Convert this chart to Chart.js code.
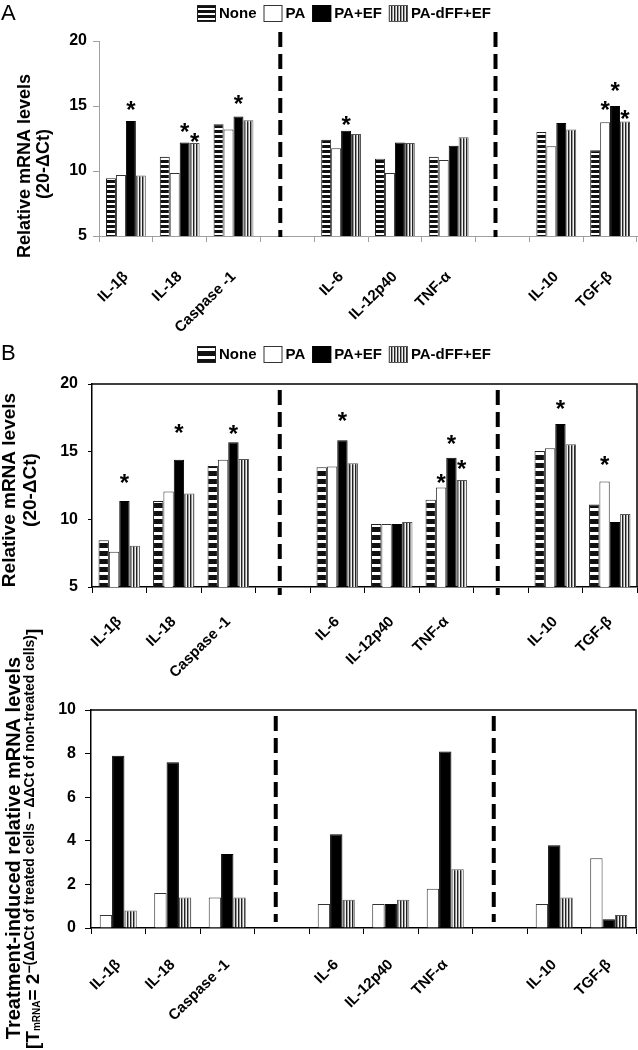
<!DOCTYPE html>
<html>
<head>
<meta charset="utf-8">
<script src="https://cdn.jsdelivr.net/npm/chart.js@4.4.1/dist/chart.umd.min.js"></script>
<style>
  body { margin: 0; background: #fff; }
  #wrap { position: relative; width: 638px; height: 1050px; overflow: hidden; }
  #wrap canvas { position: absolute; left: 0; }
  .tag { position: absolute; left: 1px; font: 22px 'Liberation Sans', Arial, sans-serif; color: #000; }
</style>
</head>
<body>
<div id="wrap">
  <canvas id="chartA" width="638" height="345" style="top:0"></canvas>
  <canvas id="chartB" width="638" height="350" style="top:335px"></canvas>
  <canvas id="chartC" width="638" height="430" style="top:620px"></canvas>
  <div class="tag" style="top:0">A</div>
  <div class="tag" style="top:340px">B</div>
</div>
<script>
const FONT = "'Liberation Sans', Arial, Helvetica, sans-serif";
Chart.defaults.font.family = FONT;

const categories = ['IL-1β', 'IL-18', 'Caspase -1', '', 'IL-6', 'IL-12p40', 'TNF-α', '', 'IL-10', 'TGF-β'];

// panel A - relative mRNA levels (20-ΔCt)
const noneA = [9.45, 11.1, 13.6, null, 12.4, 10.95, 11.1, null, 13.0, 11.6];
const paA   = [9.7, 9.85, 13.2, null, 11.75, 9.85, 10.85, null, 11.9, 13.75];
const paefA = [13.85, 12.2, 14.2, null, 13.1, 12.2, 11.95, null, 13.7, 15.0];
const dffA  = [9.65, 12.15, 13.9, null, 12.85, 12.15, 12.6, null, 13.2, 13.8];
// asterisk levels (same units as the y axis)
const starPaA   = [null, null, null, null, null, null, null, null, null, 15.1];
const starPaefA = [15.1, 13.4, 15.6, null, 14.0, null, null, null, null, 16.6];
const starDffA  = [null, 12.65, null, null, null, null, null, null, null, 14.4];

// panel B - relative mRNA levels (20-ΔCt)
const noneB = [8.45, 11.35, 13.95, null, 13.85, 9.65, 11.45, null, 15.05, 11.1];
const paB   = [7.6, 12.05, 14.4, null, 13.9, 9.65, 12.35, null, 15.25, 12.8];
const paefB = [11.35, 14.4, 15.7, null, 15.85, 9.65, 14.55, null, 17.05, 9.8];
const dffB  = [8.05, 11.9, 14.45, null, 14.15, 9.8, 12.9, null, 15.55, 10.4];
const starPaB   = [null, null, null, null, null, null, 13.1, null, null, 14.45];
const starPaefB = [13.1, 16.8, 16.75, null, 17.65, null, 16.0, null, 18.6, null];
const starDffB  = [null, null, null, null, null, null, 14.15, null, null, null];

// panel C - treatment-induced relative mRNA levels
const paC   = [0.6, 1.6, 1.4, null, 1.1, 1.1, 1.8, null, 1.1, 3.2];
const paefC = [7.9, 7.6, 3.4, null, 4.3, 1.1, 8.1, null, 3.8, 0.4];
const dffC  = [0.8, 1.4, 1.4, null, 1.3, 1.3, 2.7, null, 1.4, 0.6];

const gapIndex = categories.map((c, i) => c === '' ? i : -1).filter(i => i >= 0);

function hStripes(period, dark) {
  const c = document.createElement('canvas');
  c.width = 4; c.height = period;
  const g = c.getContext('2d');
  g.fillStyle = '#fff'; g.fillRect(0, 0, 4, period);
  g.fillStyle = '#111'; g.fillRect(0, 0, 4, dark);
  return g.createPattern(c, 'repeat');
}

function vStripes() {
  const c = document.createElement('canvas');
  c.width = 3; c.height = 4;
  const g = c.getContext('2d');
  g.fillStyle = '#f2f2f2'; g.fillRect(0, 0, 3, 4);
  g.fillStyle = '#222'; g.fillRect(1, 0, 1, 4);
  g.fillStyle = '#999'; g.fillRect(2, 0, 1, 4);
  return g.createPattern(c, 'repeat');
}

function vText(ctx, runs, bx, cy, align) {
  ctx.save();
  ctx.translate(bx, cy);
  ctx.rotate(-Math.PI / 2);
  ctx.textBaseline = 'alphabetic';
  ctx.textAlign = 'left';
  ctx.fillStyle = '#000';
  let total = 0;
  runs.forEach(r => {
    ctx.font = 'bold ' + r.size + 'px ' + FONT;
    r.w = ctx.measureText(r.t).width;
    total += r.w;
  });
  let x = align === 'center' ? -total / 2 : 0;
  runs.forEach(r => {
    ctx.font = 'bold ' + r.size + 'px ' + FONT;
    ctx.fillText(r.t, x, r.dy || 0);
    x += r.w;
  });
  ctx.restore();
}

function drawLegend(ctx, chart, L) {
  let x = L.x;
  ctx.font = 'bold 15px ' + FONT;
  ctx.textBaseline = 'middle';
  ctx.textAlign = 'left';
  chart.data.datasets.forEach(ds => {
    ctx.fillStyle = ds.backgroundColor;
    ctx.fillRect(x, L.y - 8, 19, 17);
    ctx.strokeStyle = ds.borderColor;
    ctx.lineWidth = 1;
    ctx.strokeRect(x + 0.5, L.y - 7.5, 18, 16);
    ctx.fillStyle = '#000';
    ctx.fillText(ds.label, x + 22, L.y + 1);
    x += 22 + ctx.measureText(ds.label).width + 7;
  });
}

const decor = {
  id: 'decor',
  afterDatasetsDraw(chart, args, o) {
    const ctx = chart.ctx, area = chart.chartArea;
    const xs = chart.scales.x, ys = chart.scales.y;
    ctx.save();
    ctx.strokeStyle = '#000';
    ctx.lineWidth = 4;
    ctx.setLineDash([15, 7]);
    gapIndex.forEach(i => {
      const x = xs.getPixelForValue(i) + o.dashDx;
      ctx.beginPath();
      ctx.moveTo(x, area.top + o.dashTop);
      ctx.lineTo(x, area.bottom + o.dashBottom);
      ctx.stroke();
    });
    ctx.setLineDash([]);
    if (o.frame) {
      ctx.lineWidth = o.frame;
      ctx.beginPath();
      ctx.moveTo(area.left, area.top);
      ctx.lineTo(area.right, area.top);
      ctx.lineTo(area.right, area.bottom);
      ctx.stroke();
    }
    ctx.fillStyle = '#000';
    ctx.font = 'bold ' + o.starSize + 'px ' + FONT;
    ctx.textAlign = 'center';
    ctx.textBaseline = 'alphabetic';
    (o.stars || []).forEach((arr, di) => {
      if (!arr) return;
      const meta = chart.getDatasetMeta(di);
      arr.forEach((v, j) => {
        if (v == null) return;
        ctx.fillText('*', meta.data[j].x, ys.getPixelForValue(v) + o.starSize * 0.57);
      });
    });
    o.titles.forEach(t => vText(ctx, t.runs, t.x, t.y, t.align));
    if (o.legend) drawLegend(ctx, chart, o.legend);
    ctx.restore();
  }
};

function makePanel(id, datasets, p) {
  new Chart(document.getElementById(id), {
    type: 'bar',
    data: { labels: categories, datasets },
    options: {
      responsive: false,
      animation: false,
      devicePixelRatio: 1,
      layout: { padding: { top: p.top, right: p.right, left: 0, bottom: 0 } },
      datasets: { bar: { categoryPercentage: p.cat, barPercentage: 1, borderWidth: 1 } },
      plugins: {
        legend: { display: false },
        tooltip: { enabled: false },
        decor: p.decor
      },
      scales: {
        x: {
          grid: { offset: true, drawOnChartArea: false, tickLength: p.xTick, color: p.axisColor },
          border: { color: p.axisColor, width: p.axisWidth },
          ticks: {
            autoSkip: false, minRotation: 45, maxRotation: 45, padding: p.xPad,
            color: '#000', font: { size: 15, weight: 'bold' }
          },
          afterFit: s => { s.height = p.xh; s.paddingLeft = 0; s.paddingRight = 0; }
        },
        y: {
          min: p.min, max: p.max,
          grid: { drawOnChartArea: false, tickLength: p.yTick, color: p.axisColor },
          border: { color: p.axisColor, width: p.axisWidth },
          ticks: { stepSize: p.step, padding: p.yPad, color: '#000', font: { size: 16, weight: 'bold' } },
          afterFit: s => { s.width = p.left; }
        }
      }
    },
    plugins: [decor]
  });
}

const stripesA = hStripes(5, 3);
const stripesB = hStripes(8, 5);
const dff = vStripes();

makePanel('chartA', [
  { label: 'None', data: noneA, backgroundColor: stripesA, borderColor: '#222' },
  { label: 'PA', data: paA, backgroundColor: '#fff', borderColor: '#333' },
  { label: 'PA+EF', data: paefA, backgroundColor: '#000', borderColor: '#000' },
  { label: 'PA-dFF+EF', data: dffA, backgroundColor: dff, borderColor: '#555' }
], {
  top: 41, right: 1, left: 99, xh: 109, cat: 0.74,
  min: 5, max: 20, step: 5, yPad: 6, yTick: 6, xTick: 6, xPad: 26,
  axisColor: '#a0a0a0', axisWidth: 1,
  decor: {
    dashDx: -7, dashTop: -9, dashBottom: 1, frame: 0, starSize: 24,
    stars: [null, starPaA, starPaefA, starDffA],
    legend: { x: 197, y: 13 },
    titles: [
      { runs: [{ t: 'Relative mRNA levels', size: 18 }], x: 30, y: 166, align: 'center' },
      { runs: [{ t: '(20-ΔCt)', size: 18 }], x: 49, y: 164, align: 'center' }
    ]
  }
});

makePanel('chartB', [
  { label: 'None', data: noneB, backgroundColor: stripesB, borderColor: '#222' },
  { label: 'PA', data: paB, backgroundColor: '#fff', borderColor: '#333' },
  { label: 'PA+EF', data: paefB, backgroundColor: '#000', borderColor: '#000' },
  { label: 'PA-dFF+EF', data: dffB, backgroundColor: dff, borderColor: '#555' }
], {
  top: 49, right: 1, left: 92, xh: 98, cat: 0.76,
  min: 5, max: 20, step: 5, yPad: 10, yTick: 4, xTick: 6, xPad: 20,
  axisColor: '#000', axisWidth: 1.5,
  decor: {
    dashDx: -3, dashTop: 6, dashBottom: 8, frame: 1.5, starSize: 24,
    stars: [null, starPaB, starPaefB, starDffB],
    legend: { x: 197, y: 19 },
    titles: [
      { runs: [{ t: 'Relative mRNA levels', size: 19 }], x: 15, y: 155, align: 'center' },
      { runs: [{ t: '(20-ΔCt)', size: 19 }], x: 36, y: 155, align: 'center' }
    ]
  }
});

makePanel('chartC', [
  { label: 'PA', data: paC, backgroundColor: '#fff', borderColor: '#333' },
  { label: 'PA+EF', data: paefC, backgroundColor: '#000', borderColor: '#000' },
  { label: 'PA-dFF+EF', data: dffC, backgroundColor: dff, borderColor: '#555' }
], {
  top: 90, right: 2, left: 91, xh: 122, cat: 0.68,
  min: 0, max: 10, step: 2, yPad: 9, yTick: 6, xTick: 6, xPad: 22,
  axisColor: '#000', axisWidth: 1.5,
  decor: {
    dashDx: -6, dashTop: 6, dashBottom: -6, frame: 1.5, starSize: 24,
    stars: [],
    legend: null,
    titles: [
      { runs: [{ t: 'Treatment-induced relative mRNA levels', size: 20 }], x: 20, y: 228, align: 'center' },
      { runs: [
          { t: '[T', size: 19 },
          { t: 'mRNA', size: 10, dy: 1 },
          { t: '= 2', size: 19 },
          { t: '−(ΔΔCt of treated cells – ΔΔCt of non-treated cells)', size: 14, dy: -5 },
          { t: ']', size: 19 }
        ], x: 39, y: 429, align: 'left' }
    ]
  }
});
</script>
</body>
</html>
